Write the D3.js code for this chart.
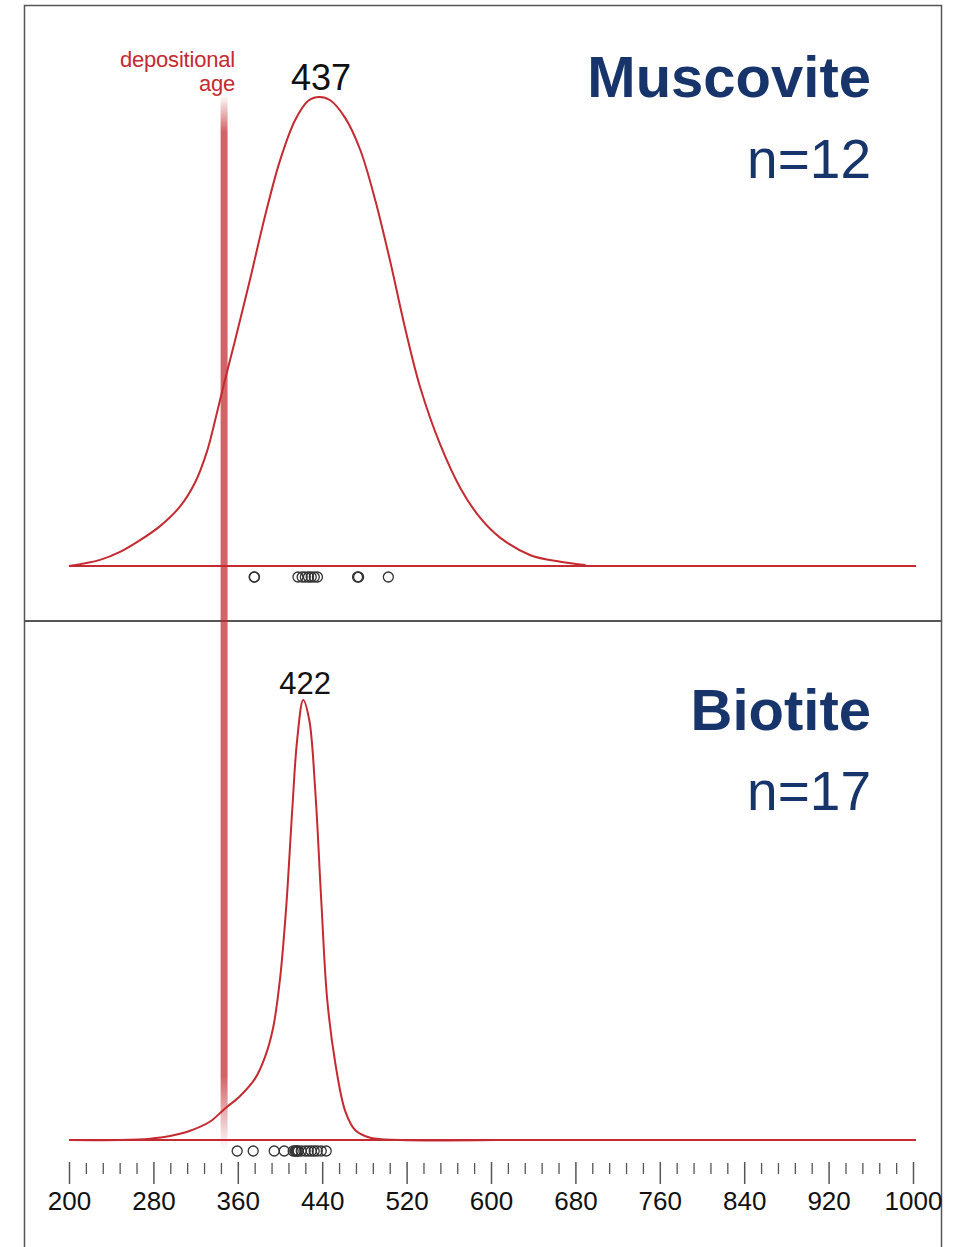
<!DOCTYPE html>
<html>
<head>
<meta charset="utf-8">
<script src="https://cdn.jsdelivr.net/npm/d3@7"></script>
<style>
  html, body { margin: 0; padding: 0; background: #fff; }
  svg { display: block; font-family: "Liberation Sans", Arial, sans-serif; }
</style>
</head>
<body>
<svg id="chart" width="962" height="1247"></svg>
<script>
// ---- data ----
const depositionalAge = 347;

const muscoviteAges = [375.5, 375.8, 417, 421, 424, 427, 429.6, 432.5, 435.5, 473.5, 474.5, 502.7];
const muscovitePeak = 437;
const muscoviteCurveAge = [200, 229.4, 248.4, 267.4, 286.3, 305.3, 319.5, 330.9, 339.5, 347.1, 357.5, 371.7, 386, 400.2, 414.4, 426.8, 437.2, 447.6, 461.9, 476.1, 490.3, 504.6, 518.8, 533, 552, 571, 590, 608.9, 637.4, 665.8, 689.6];
const muscoviteCurveDensity = [0, 0.013, 0.03, 0.055, 0.085, 0.127, 0.178, 0.245, 0.32, 0.39, 0.482, 0.612, 0.748, 0.866, 0.951, 0.992, 1, 0.993, 0.955, 0.887, 0.780, 0.648, 0.505, 0.380, 0.258, 0.166, 0.102, 0.060, 0.023, 0.009, 0.002];

const biotiteAges = [359.4, 374.6, 394.5, 404, 412.5, 414.4, 415.4, 416.3, 417.3, 420.1, 423.9, 426.8, 429.6, 432.4, 435.3, 439.1, 443.8];
const biotitePeak = 422;
const biotiteCurveAge = [200, 248.4, 276.9, 295.8, 314.8, 333.8, 347.1, 362.2, 376.5, 386, 393.5, 400.2, 405.9, 411.6, 416.3, 422, 427.7, 433.4, 439.1, 444.8, 452.4, 461.9, 471.4, 485.6, 514, 604.2];
const biotiteCurveDensity = [0, 0, 0.003, 0.009, 0.021, 0.042, 0.07, 0.1, 0.14, 0.19, 0.255, 0.37, 0.53, 0.75, 0.91, 1, 0.955, 0.795, 0.545, 0.318, 0.175, 0.065, 0.022, 0.005, 0, 0];

const axisMajorTicks = [200, 280, 360, 440, 520, 600, 680, 760, 840, 920, 1000];
const axisMinorTicks = d3.range(216, 1000, 16).filter(v => (v - 200) % 80 !== 0);

// ---- styles ----
const RED = "#c42a30";
const NAVY = "#17346b";
const FRAME = "#555";

const svg = d3.select("#chart");

const x = d3.scaleLinear().domain([200, 1000]).range([69, 913]);

const panels = [
  { name: "Muscovite", n: muscoviteAges.length, ages: muscoviteAges, peak: muscovitePeak,
    ca: muscoviteCurveAge, cd: muscoviteCurveDensity,
    y: d3.scaleLinear().domain([0, 1]).range([566, 97]),
    dotY: 577, peakFont: 36, peakBase: 90, titleBase: 97, nBase: 178 },
  { name: "Biotite", n: biotiteAges.length, ages: biotiteAges, peak: biotitePeak,
    ca: biotiteCurveAge, cd: biotiteCurveDensity,
    y: d3.scaleLinear().domain([0, 1]).range([1140, 700]),
    dotY: 1151, peakFont: 31, peakBase: 694, titleBase: 730, nBase: 810 }
];

// frame
svg.append("rect").attr("x", 24.5).attr("y", 5.5).attr("width", 917).attr("height", 1270)
  .attr("fill", "none").attr("stroke", FRAME).attr("stroke-width", 1.5);
svg.append("line").attr("x1", 24.5).attr("x2", 941.5).attr("y1", 621).attr("y2", 621)
  .attr("stroke", FRAME).attr("stroke-width", 2);

// depositional age line with faded ends
const defs = svg.append("defs");
const grad = defs.append("linearGradient").attr("id", "depGrad")
  .attr("gradientUnits", "userSpaceOnUse").attr("x1", 0).attr("x2", 0).attr("y1", 95).attr("y2", 1150);
[[0, 0], [0.035, 0.72], [0.93, 0.72], [1, 0]].forEach(([o, a]) =>
  grad.append("stop").attr("offset", o).attr("stop-color", "#c0282e").attr("stop-opacity", a));
svg.append("rect").attr("x", x(depositionalAge) - 3.5).attr("y", 95).attr("width", 7).attr("height", 1055)
  .attr("fill", "url(#depGrad)");

svg.append("text").attr("x", 235).attr("y", 67).attr("text-anchor", "end")
  .attr("font-size", 22).attr("letter-spacing", -0.2).attr("fill", RED).text("depositional");
svg.append("text").attr("x", 235).attr("y", 91).attr("text-anchor", "end")
  .attr("font-size", 22).attr("letter-spacing", -0.2).attr("fill", RED).text("age");

panels.forEach(p => {
  const g = svg.append("g");
  // baseline
  g.append("line").attr("x1", x(200)).attr("x2", x(1000) + 3)
    .attr("y1", p.y(0)).attr("y2", p.y(0))
    .attr("stroke", RED).attr("stroke-width", 2);
  // density curve
  const pts = p.ca.map((a, i) => [a, p.cd[i]]);
  const line = d3.line().x(d => x(d[0])).y(d => p.y(d[1])).curve(d3.curveCatmullRom.alpha(0.5));
  g.append("path").attr("d", line(pts)).attr("fill", "none")
    .attr("stroke", RED).attr("stroke-width", 2);
  // sample ages
  g.selectAll("circle").data(p.ages).join("circle")
    .attr("cx", d => x(d)).attr("cy", p.dotY).attr("r", 5)
    .attr("fill", "none").attr("stroke", "#333").attr("stroke-width", 1.3);
  // peak label
  g.append("text").attr("x", x(p.peak) + 2).attr("y", p.peakBase).attr("text-anchor", "middle")
    .attr("font-size", p.peakFont).attr("fill", "#111").text(p.peak);
  // titles
  g.append("text").attr("x", 871).attr("y", p.titleBase).attr("text-anchor", "end")
    .attr("font-size", 58).attr("font-weight", "bold").attr("fill", NAVY).text(p.name);
  g.append("text").attr("x", 871).attr("y", p.nBase).attr("text-anchor", "end")
    .attr("font-size", 55).attr("fill", NAVY).text("n=" + p.n);
});

// axis
const axisY = 1162;
const majorAxis = d3.axisBottom(x).tickValues(axisMajorTicks).tickSize(22).tickPadding(6)
  .tickFormat(d3.format("d"));
const ga = svg.append("g").attr("transform", `translate(0,${axisY})`).call(majorAxis);
ga.select(".domain").remove();
ga.selectAll(".tick line").attr("stroke", FRAME).attr("stroke-width", 1.5);
ga.selectAll(".tick text").attr("font-size", 26).attr("fill", "#111")
  .attr("font-family", "'Liberation Sans', Arial, sans-serif")
  .attr("y", 48).attr("dy", 0);

const minorAxis = d3.axisBottom(x).tickValues(axisMinorTicks).tickSize(11).tickFormat("");
const gm = svg.append("g").attr("transform", `translate(0,${axisY + 1})`).call(minorAxis);
gm.select(".domain").remove();
gm.selectAll(".tick line").attr("stroke", FRAME).attr("stroke-width", 1.3);
</script>
</body>
</html>
